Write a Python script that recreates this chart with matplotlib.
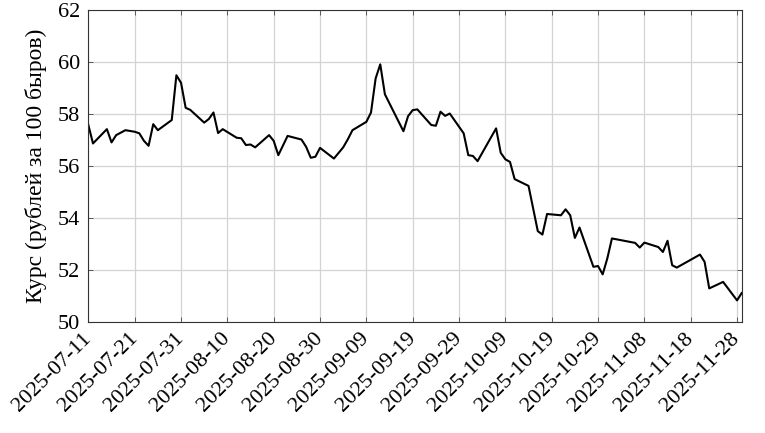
import datetime as dt

import matplotlib

matplotlib.use("Agg")
import matplotlib.dates as mdates
import matplotlib.pyplot as plt

# Exchange rate, rubles per 100 birr
dates = [
    "2025-07-11", "2025-07-12", "2025-07-15", "2025-07-16", "2025-07-17", "2025-07-19",
    "2025-07-21", "2025-07-22", "2025-07-23", "2025-07-24", "2025-07-25", "2025-07-26",
    "2025-07-29", "2025-07-30", "2025-07-31", "2025-08-01", "2025-08-02", "2025-08-05",
    "2025-08-06", "2025-08-07", "2025-08-08", "2025-08-09", "2025-08-12", "2025-08-13",
    "2025-08-14", "2025-08-15", "2025-08-16", "2025-08-19", "2025-08-20", "2025-08-21",
    "2025-08-23", "2025-08-26", "2025-08-27", "2025-08-28", "2025-08-29", "2025-08-30",
    "2025-09-02", "2025-09-04", "2025-09-05", "2025-09-06", "2025-09-09", "2025-09-10",
    "2025-09-11", "2025-09-12", "2025-09-13", "2025-09-17", "2025-09-18", "2025-09-19",
    "2025-09-20", "2025-09-23", "2025-09-24", "2025-09-25", "2025-09-26", "2025-09-27",
    "2025-09-30", "2025-10-01", "2025-10-02", "2025-10-03", "2025-10-07", "2025-10-08",
    "2025-10-09", "2025-10-10", "2025-10-11", "2025-10-14", "2025-10-16", "2025-10-17",
    "2025-10-18", "2025-10-21", "2025-10-22", "2025-10-23", "2025-10-24", "2025-10-25",
    "2025-10-28", "2025-10-29", "2025-10-30", "2025-10-31", "2025-11-01", "2025-11-06",
    "2025-11-07", "2025-11-08", "2025-11-11", "2025-11-12", "2025-11-13", "2025-11-14",
    "2025-11-15", "2025-11-20", "2025-11-21", "2025-11-22", "2025-11-25", "2025-11-28",
    "2025-11-29",
]
rates = [
    57.57, 56.86, 57.41, 56.90, 57.18, 57.37,
    57.31, 57.25, 56.96, 56.77, 57.60, 57.37,
    57.76, 59.48, 59.19, 58.23, 58.15, 57.66,
    57.80, 58.05, 57.26, 57.41, 57.08, 57.06,
    56.80, 56.82, 56.71, 57.18, 56.96, 56.41,
    57.15, 57.01, 56.73, 56.31, 56.35, 56.69,
    56.28, 56.71, 57.02, 57.37, 57.69, 58.05,
    59.36, 59.90, 58.75, 57.33, 57.91, 58.14,
    58.17, 57.57, 57.54, 58.08, 57.92, 58.01,
    57.25, 56.41, 56.38, 56.18, 57.44, 56.50,
    56.25, 56.15, 55.49, 55.23, 53.49, 53.36,
    54.15, 54.10, 54.33, 54.10, 53.23, 53.63,
    52.12, 52.15, 51.83, 52.44, 53.21, 53.04,
    52.86, 53.05, 52.88, 52.69, 53.12, 52.18,
    52.09, 52.59, 52.31, 51.29, 51.54, 50.83,
    51.11,
]
tick_dates = [
    "2025-07-11", "2025-07-21", "2025-07-31", "2025-08-10", "2025-08-20",
    "2025-08-30", "2025-09-09", "2025-09-19", "2025-09-29", "2025-10-09",
    "2025-10-19", "2025-10-29", "2025-11-08", "2025-11-18", "2025-11-28",
]
y_ticks = [50, 52, 54, 56, 58, 60, 62]

plt.rcParams["font.family"] = ["Liberation Serif", "DejaVu Serif"]
plt.rcParams["font.size"] = 16

x = [dt.datetime.strptime(d, "%Y-%m-%d") for d in dates]
xt = [dt.datetime.strptime(d, "%Y-%m-%d") for d in tick_dates]

fig = plt.figure(figsize=(7.65, 4.33), dpi=100)
ax = fig.add_axes([0.1155, 0.2564, 0.8540, 0.7212])

ax.plot(x, rates, color="black", linewidth=1.5)

ax.set_xlim(x[0], x[-1])
ax.set_ylim(50, 62)
ax.set_xticks(xt)
ax.xaxis.set_major_formatter(mdates.DateFormatter("%Y-%m-%d"))
ax.set_yticks(y_ticks)
for lbl in ax.get_xticklabels():
    lbl.set_rotation(45)
    lbl.set_ha("right")
    lbl.set_va("center")
    lbl.set_rotation_mode("anchor")

ax.grid(True, color="#d3d3d3", linewidth=0.9)
ax.set_axisbelow(True)
ax.tick_params(direction="in", length=3.5, width=0.6, color="#444444",
               top=True, right=True, pad=6)
ax.tick_params(axis="x", pad=10)
for sp in ax.spines.values():
    sp.set_linewidth(0.8)
    sp.set_color("#333333")

ax.set_ylabel("Курс (рублей за 100 быров)", fontsize=17, labelpad=8)

fig.savefig("out.png", dpi=100)
